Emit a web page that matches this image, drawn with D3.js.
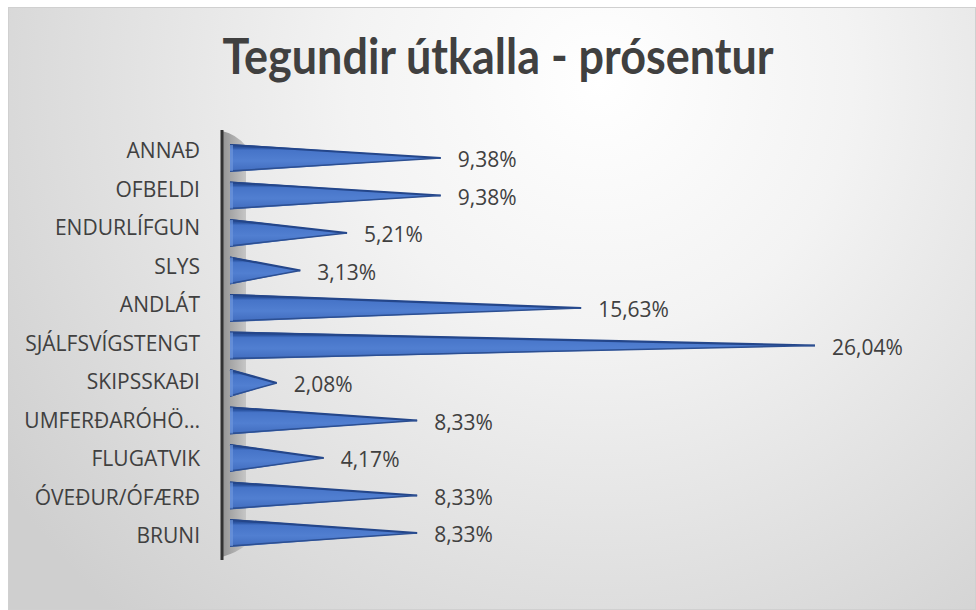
<!DOCTYPE html>
<html><head><meta charset="utf-8">
<script src="https://cdn.jsdelivr.net/npm/d3@7"></script>
<style>html,body{margin:0;padding:0;background:#fff;}svg{display:block;}</style>
</head><body>
<script>
const title = "Tegundir útkalla - prósentur";
const categories = ["ANNAÐ","OFBELDI","ENDURLÍFGUN","SLYS","ANDLÁT","SJÁLFSVÍGSTENGT","SKIPSSKAÐI","UMFERÐARÓHÖ…","FLUGATVIK","ÓVEÐUR/ÓFÆRÐ","BRUNI"];
const values = [9.38,9.38,5.21,3.13,15.63,26.04,2.08,8.33,4.17,8.33,8.33];
const valueLabels = ["9,38%","9,38%","5,21%","3,13%","15,63%","26,04%","2,08%","8,33%","4,17%","8,33%","8,33%"];

const W = 976, H = 610;
const svg = d3.select("body").append("svg").attr("width", W).attr("height", H);
const defs = svg.append("defs");

const bg = defs.append("radialGradient").attr("id","bg")
  .attr("gradientUnits","userSpaceOnUse").attr("cx",600).attr("cy",80).attr("r",720);
bg.append("stop").attr("offset","0").attr("stop-color","#ffffff");
bg.append("stop").attr("offset","0.35").attr("stop-color","#f3f3f3");
bg.append("stop").attr("offset","1").attr("stop-color","#cfcfcf");

const barGrad = defs.append("linearGradient").attr("id","bar").attr("x1",0).attr("y1",0).attr("x2",0).attr("y2",1);
[["0","#27498e"],["0.14","#2d57a5"],["0.22","#4674c8"],["0.6","#517fd1"],["0.9","#4470c2"],["1","#2f569f"]]
  .forEach(([o,c]) => barGrad.append("stop").attr("offset",o).attr("stop-color",c));

const wallGrad = defs.append("linearGradient").attr("id","wall").attr("x1",0).attr("y1",0).attr("x2",1).attr("y2",0);
wallGrad.append("stop").attr("offset","0").attr("stop-color","#939393");
wallGrad.append("stop").attr("offset","1").attr("stop-color","#c6c6c6");

// background
svg.append("rect").attr("x",8.5).attr("y",7.5).attr("width",W-9).attr("height",H-8)
  .attr("fill","url(#bg)").attr("stroke","#d0d0d0").attr("stroke-width",1);

// title
svg.append("text").attr("x",498).attr("y",74).attr("text-anchor","middle")
  .attr("font-family","Lato, 'Open Sans', sans-serif").attr("font-weight","bold")
  .attr("font-size",50).attr("fill","#404040")
  .attr("textLength",551).attr("lengthAdjust","spacingAndGlyphs")
  .text(title);

const x = d3.scaleLinear().domain([0, 26.04]).range([230, 815]);
const yBar = d3.scalePoint().domain(categories).range([158, 533]);
const yLab = d3.scalePoint().domain(categories).range([151, 536]);
const halfH = 14;

// wall
svg.append("path")
  .attr("d", `M222,131 Q236,134 246,146 L246,545 Q238,552 222,557 Z`)
  .attr("fill","url(#wall)");
svg.append("line").attr("x1",222).attr("x2",222).attr("y1",130).attr("y2",560)
  .attr("stroke","#333").attr("stroke-width",3);

// bars (cones)
const g = svg.append("g");
categories.forEach((c,i) => {
  const cy = yBar(c), x0 = x(0), x1 = x(values[i]);
  g.append("path")
    .attr("d", `M${x0},${cy-halfH} L${x1},${cy} L${x0},${cy+halfH} Z`)
    .attr("fill","url(#bar)");
  g.append("path")
    .attr("d", `M${x0},${cy-halfH+1} L${x1},${cy}`)
    .attr("stroke","#24468a").attr("stroke-width",2.2).attr("fill","none");
  g.append("path")
    .attr("d", `M${x0},${cy+halfH-1} L${x1},${cy}`)
    .attr("stroke","#2c4f92").attr("stroke-width",1.5).attr("fill","none");
  g.append("rect").attr("x",x0).attr("y",cy-halfH+1).attr("width",3).attr("height",2*halfH-2)
    .attr("fill","#6d95dc").attr("opacity",0.7);
});

// category labels
svg.append("g").selectAll("text").data(categories).join("text")
  .attr("x",200).attr("y",d => yLab(d)).attr("dy","0.35em").attr("text-anchor","end")
  .attr("font-family","'Open Sans', sans-serif").attr("font-size",21).attr("fill","#404040")
  .text(d => d);

// value labels
svg.append("g").selectAll("text").data(categories).join("text")
  .attr("x",(d,i) => x(values[i]) + 17).attr("y",(d,i) => yBar(d) + 2).attr("dy","0.35em")
  .attr("font-family","'Open Sans', sans-serif").attr("font-size",21).attr("fill","#404040")
  .text((d,i) => valueLabels[i]);
</script>
</body></html>
